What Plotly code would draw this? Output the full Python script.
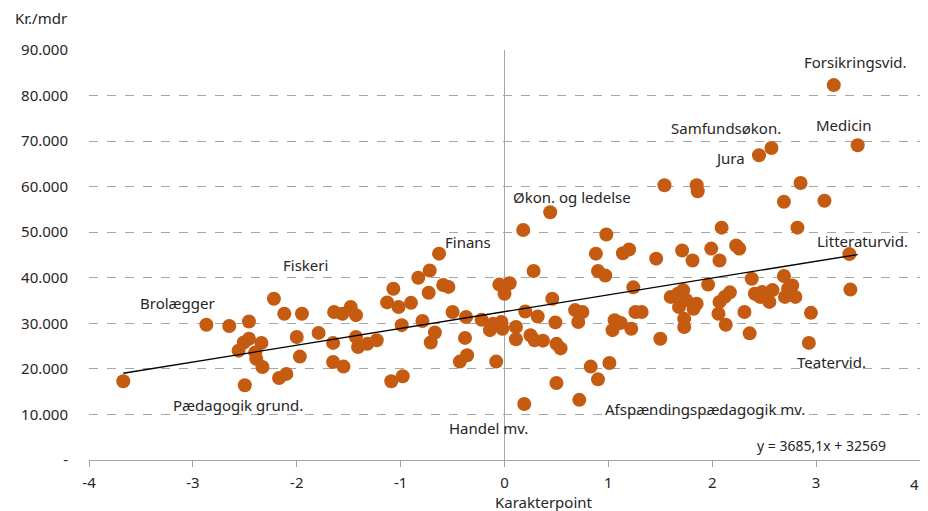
import plotly.graph_objects as go

# Karakterpoint (x) og løn i kr./mdr (y) pr. uddannelse
karakterpoint = [
    -3.67, -2.87, -2.65, -2.46, -2.22, -2.12, -1.95, -2.00, -1.79, -1.97,
    -2.17, -2.10, -2.50, -2.56, -2.51, -2.46, -2.34, -2.40, -2.39, -2.33,
    -1.64, -1.56, -1.48, -1.43, -1.65, -1.65, -1.55, -1.43, -1.41, -1.32,
    -1.23, -1.13, -1.07, -1.02, -0.90, -0.99, -1.09, -0.98, -0.83, -0.73,
    -0.72, -0.63, -0.59, -0.54, -0.79, -0.67, -0.71, -0.50, -0.37, -0.38,
    -0.43, -0.36, -0.22, -0.14, -0.11, -0.03, -0.02, 0.11, -0.08, -0.05,
    0.05, 0.00, 0.20, 0.32, 0.11, 0.25, 0.29, 0.37, 0.50, 0.54,
    0.46, 0.49, 0.28, 0.18, 0.44, 0.19, 0.50, 0.72, 0.83, 0.90,
    1.01, 0.68, 0.75, 0.71, 1.06, 1.12, 1.04, 1.22, 1.26, 1.32,
    1.24, 0.90, 0.97, 0.88, 0.98, 1.14, 1.20, 1.46, 1.50, 1.54,
    1.71, 1.81, 1.85, 1.86, 2.07, 1.99, 2.23, 2.26, 2.09, 1.60,
    1.67, 1.72, 1.75, 1.68, 1.73, 1.73, 1.85, 1.82, 1.96, 2.07,
    2.12, 2.17, 2.06, 2.13, 2.31, 2.36, 2.38, 2.41, 2.46, 2.48,
    2.55, 2.58, 2.69, 2.70, 2.73, 2.77, 2.80, 2.95, 2.93, 3.32,
    3.33, 2.82, 2.69, 2.85, 3.08, 2.45, 2.57, 3.17, 3.40,
]
loen = [
    17300, 29700, 29400, 30400, 35400, 32100, 32100, 27000, 27900, 22700,
    18000, 18900, 16400, 24000, 25800, 26600, 25700, 23600, 22200, 20400,
    32500, 32100, 33600, 31800, 25700, 21500, 20500, 27000, 24800, 25500,
    26300, 34600, 37600, 33600, 34500, 29600, 17300, 18400, 40000, 36700,
    41600, 45300, 38400, 38000, 30500, 28000, 25800, 32500, 31400, 26800,
    21600, 23000, 30800, 28500, 29900, 30300, 28800, 29200, 21600, 38500,
    38800, 36500, 32600, 31500, 26500, 27400, 26300, 26200, 25500, 24500,
    35400, 30200, 41500, 50500, 54400, 12300, 16900, 13200, 20500, 17700,
    21300, 32900, 32500, 30300, 30700, 30100, 28500, 28800, 32500, 32500,
    37900, 41500, 40500, 45300, 49500, 45400, 46200, 44200, 26600, 60300,
    46000, 43800, 60300, 59000, 43800, 46400, 47100, 46400, 51000, 35800,
    36500, 37300, 35100, 33600, 31000, 29200, 34300, 33200, 38500, 34700,
    35800, 36800, 32100, 29700, 32500, 27800, 39800, 36500, 35800, 36900,
    34700, 37300, 40400, 35800, 37600, 38300, 35800, 32300, 25700, 45200,
    37400, 51000, 56700, 60800, 56900, 66900, 68500, 82300, 69100,
]

# Trendlinje som angivet i figuren
haeldning = 3685.1
skaering = 32569

# Navngivne uddannelser: tekst og placering af etiketten
etiketter = ["Forsikringsvid.", "Medicin", "Samfundsøkon.", "Jura",
             "Økon. og ledelse", "Finans", "Fiskeri", "Brolægger",
             "Pædagogik grund.", "Handel mv.", "Afspændingspædagogik mv.",
             "Teatervid.", "Litteraturvid."]
etiket_x = [3.38, 3.27, 2.13, 2.17, 0.65, -0.35, -1.92, -3.15,
            -2.57, -0.15, 1.93, 3.15, 3.45]
etiket_y = [87400, 73500, 72900, 66300, 57700, 47800, 42700, 34400,
            12000, 7000, 11300, 21500, 48000]

x_ticks = [-4, -3, -2, -1, 0, 1, 2, 3, 4]
# sidste etiket ("4") ligger i kanten og tegnes som annotation
x_ticktext = ["-4", "-3", "-2", "-1", "0", "1", "2", "3", ""]
y_ticks = [0, 10000, 20000, 30000, 40000, 50000, 60000, 70000, 80000, 90000]
y_ticktext = ["-", "10.000", "20.000", "30.000", "40.000", "50.000",
              "60.000", "70.000", "80.000", "90.000"]

font_navn = "Noto Sans"
tekstfarve = "#262626"

fig = go.Figure()

fig.add_trace(go.Scatter(
    x=karakterpoint,
    y=loen,
    mode="markers",
    marker=dict(color="#C55A11", size=14, line=dict(width=0)),
    cliponaxis=False,
    showlegend=False,
))

x_min, x_max = min(karakterpoint), max(karakterpoint)
fig.add_trace(go.Scatter(
    x=[x_min, x_max],
    y=[haeldning * x_min + skaering, haeldning * x_max + skaering],
    mode="lines",
    line=dict(color="black", width=1.3),
    showlegend=False,
))

for tekst, ex, ey in zip(etiketter, etiket_x, etiket_y):
    fig.add_annotation(
        x=ex, y=ey, text=tekst, showarrow=False,
        font=dict(family=font_navn, size=15, color=tekstfarve),
    )

fig.add_annotation(
    x=3.05, y=3100, text="y = 3685,1x + 32569", showarrow=False,
    font=dict(family=font_navn, size=14, color=tekstfarve),
)

fig.add_annotation(
    xref="x", yref="paper", x=x_ticks[-1], y=0, yshift=-24,
    xanchor="right", yanchor="middle", text=str(x_ticks[-1]),
    showarrow=False, borderpad=0,
    font=dict(family=font_navn, size=15, color=tekstfarve),
)

fig.add_annotation(
    xref="paper", yref="paper", x=-0.0915, y=1.078,
    xanchor="left", yanchor="middle", text="Kr./mdr", showarrow=False,
    font=dict(family=font_navn, size=15, color=tekstfarve),
)

fig.add_annotation(
    xref="paper", yref="paper", x=0.547, y=-0.102,
    xanchor="center", yanchor="middle", text="Karakterpoint", showarrow=False,
    borderpad=0,
    font=dict(family=font_navn, size=15, color=tekstfarve),
)

# siden har 8 px kant, så figuren gøres tilsvarende mindre
fig.update_layout(
    width=912,
    height=503,
    margin=dict(l=81, r=0, t=42, b=51),
    plot_bgcolor="white",
    paper_bgcolor="white",
    font=dict(family=font_navn, size=15, color=tekstfarve),
    xaxis=dict(
        range=[-4, 4],
        tickvals=x_ticks,
        ticktext=x_ticktext,
        showgrid=False,
        zeroline=True,
        zerolinecolor="#a6a6a6",
        zerolinewidth=1,
        showline=True,
        linecolor="#a6a6a6",
        linewidth=1,
        ticks="outside",
        tickcolor="#a6a6a6",
        ticklen=6,
        ticklabelstandoff=3,
        tickfont=dict(size=15),
        automargin=False,
    ),
    yaxis=dict(
        range=[0, 90000],
        tickvals=y_ticks,
        ticktext=y_ticktext,
        showgrid=True,
        gridcolor="#a6a6a6",
        griddash="dash",
        gridwidth=1,
        zeroline=False,
        showline=False,
        ticks="",
        ticklabelstandoff=20,
        tickfont=dict(size=15),
        automargin=False,
    ),
)

fig.write_html("out.html")
